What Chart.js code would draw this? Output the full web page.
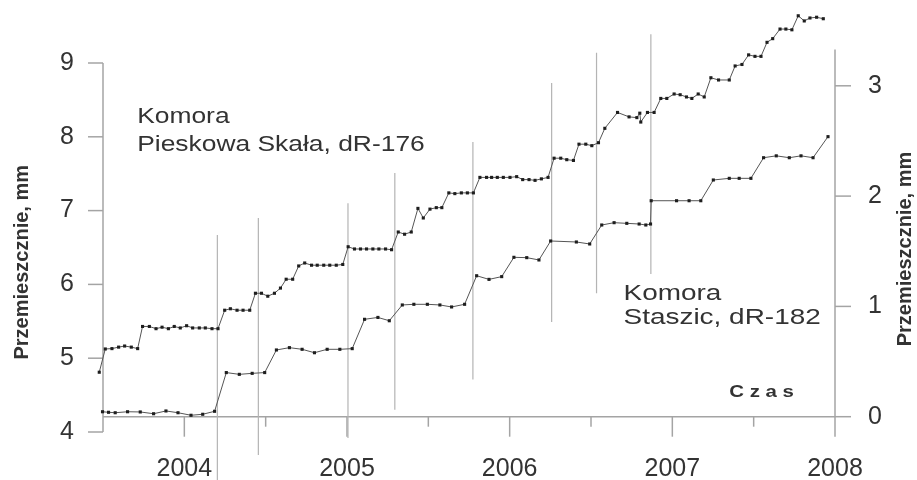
<!DOCTYPE html>
<html><head><meta charset="utf-8">
<script src="https://cdn.jsdelivr.net/npm/chart.js@4/dist/chart.umd.min.js"></script>
<style>html,body{margin:0;padding:0;background:#fff;}#wrap{width:917px;height:480px;}</style>
</head><body><div id="wrap"><canvas id="c" width="917" height="480"></canvas></div>
<script>
// ---- data (decimal years, millimetres) ----
const pieskowaYears = [2003.477,2003.514,2003.555,2003.596,2003.633,2003.674,2003.713,2003.743,2003.785,2003.826,
 2003.863,2003.902,2003.938,2003.975,2004.014,2004.051,2004.092,2004.129,2004.170,2004.207,
 2004.248,2004.283,2004.324,2004.361,2004.402,2004.437,2004.474,2004.513,2004.554,2004.591,
 2004.626,2004.666,2004.703,2004.740,2004.782,2004.817,2004.857,2004.894,2004.934,2004.974,
 2005.007,2005.046,2005.083,2005.120,2005.159,2005.196,2005.237,2005.274,2005.315,2005.354,
 2005.395,2005.436,2005.469,2005.510,2005.549,2005.583,2005.626,2005.663,2005.703,2005.740,
 2005.777,2005.817,2005.858,2005.889,2005.924,2005.961,2006.002,2006.043,2006.080,2006.119,
 2006.156,2006.195,2006.236,2006.273,2006.314,2006.351,2006.392,2006.426,2006.468,2006.505,
 2006.546,2006.585,2006.663,2006.734,2006.782,2006.800,2006.806,2006.847,2006.888,2006.929,
 2006.966,2007.011,2007.048,2007.087,2007.120,2007.159,2007.196,2007.237,2007.284,2007.350,
 2007.386,2007.428,2007.469,2007.508,2007.545,2007.582,2007.617,2007.662,2007.698,2007.735,
 2007.774,2007.811,2007.846,2007.887,2007.928];
const pieskowaValues = [4.81,5.125,5.13,5.15,5.165,5.15,5.13,5.43,5.43,5.40,
 5.42,5.40,5.43,5.41,5.44,5.41,5.41,5.41,5.40,5.40,
 5.65,5.67,5.65,5.65,5.65,5.88,5.88,5.84,5.88,5.95,
 6.07,6.07,6.25,6.29,6.26,6.26,6.26,6.26,6.26,6.27,
 6.51,6.48,6.48,6.48,6.48,6.48,6.48,6.47,6.71,6.68,
 6.71,7.03,6.90,7.02,7.04,7.04,7.24,7.23,7.24,7.24,
 7.24,7.45,7.45,7.45,7.45,7.45,7.45,7.46,7.42,7.42,
 7.41,7.43,7.45,7.71,7.71,7.69,7.68,7.90,7.90,7.88,
 7.92,8.115,8.33,8.27,8.26,8.32,8.20,8.33,8.33,8.52,
 8.52,8.58,8.57,8.54,8.52,8.58,8.54,8.80,8.77,8.77,
 8.96,8.98,9.11,9.09,9.09,9.28,9.33,9.46,9.46,9.45,
 9.64,9.57,9.61,9.62,9.60];
const staszicYears = [2003.497,2003.534,2003.575,2003.651,2003.729,2003.811,2003.887,2003.961,2004.041,2004.113,
 2004.186,2004.258,2004.338,2004.417,2004.494,2004.566,2004.646,2004.724,2004.800,2004.878,
 2004.956,2005.032,2005.108,2005.190,2005.260,2005.340,2005.411,2005.494,2005.571,2005.643,
 2005.723,2005.797,2005.873,2005.951,2006.026,2006.105,2006.180,2006.252,2006.410,2006.492,
 2006.566,2006.642,2006.720,2006.796,2006.837,2006.866,2006.870,2007.026,2007.103,2007.175,
 2007.252,2007.350,2007.411,2007.483,2007.561,2007.639,2007.719,2007.791,2007.865,2007.957];
const staszicValues = [0.045,0.040,0.036,0.045,0.043,0.027,0.052,0.036,0.013,0.022,
 0.049,0.400,0.384,0.393,0.400,0.605,0.626,0.611,0.580,0.611,
 0.611,0.617,0.883,0.900,0.870,1.013,1.019,1.019,1.013,0.995,
 1.019,1.278,1.245,1.270,1.445,1.442,1.421,1.593,1.584,1.566,
 1.738,1.759,1.753,1.747,1.738,1.747,1.958,1.958,1.958,1.958,
 2.146,2.161,2.161,2.161,2.348,2.365,2.348,2.365,2.348,2.539];
// vertical event markers (year, top / bottom on left axis)
const eventYears  = [2004.203,2004.455,2005.006,2005.294,2005.774,2006.258,2006.534,2006.868];
const eventTop    = [6.67,6.90,7.10,7.51,7.93,8.73,9.14,9.39];
const eventBottom = [3.35,3.69,3.92,4.30,4.71,5.49,5.88,6.14];
// ticks
const leftTicks = [4,5,6,7,8,9];
const rightTicks = [0,1,2,3];
const yearTicks = [2004,2005,2006,2007,2008];
const halfYearTicks = [2004.5,2005.5,2006.5,2007.5];
// texts
const axisTitle = 'Przemieszcznie, mm';
const timeLabel = 'C z a s';
const pieskowaLabel = ['Komora','Pieskowa Skała, dR-176'];
const staszicLabel = ['Komora','Staszic, dR-182'];

const FONT = "'Liberation Sans', Arial, sans-serif";
const TEXT = '#333333';
const AXIS = '#a4a4a4';

const toPts = (xs, ys) => xs.map((x,i)=>({x, y: ys[i]}));
const eventPts = [];
eventYears.forEach((x,i)=>{ eventPts.push({x, y:eventTop[i]},{x, y:eventBottom[i]},{x, y:null}); });

const axesPlugin = {
  id: 'axesPlugin',
  beforeDatasetsDraw(chart) {
    const {ctx, chartArea, scales:{x, yL, yR}} = chart;
    const L = chartArea.left, R = chartArea.right;
    const ln = (a,b,c,d)=>{ctx.beginPath();ctx.moveTo(a,b);ctx.lineTo(c,d);ctx.stroke();};
    ctx.save();
    ctx.strokeStyle = AXIS; ctx.lineWidth = 1.5;
    ln(L, yL.getPixelForValue(4), L, yL.getPixelForValue(9));
    leftTicks.forEach(v=>{const p=yL.getPixelForValue(v); ln(L-15,p,L,p);});
    ln(R, yR.getPixelForValue(0), R, yR.getPixelForValue(3.33));
    rightTicks.forEach(v=>{const p=yR.getPixelForValue(v); ln(R,p,R+16,p);});
    const y0 = yR.getPixelForValue(0);
    ln(L, y0, R, y0);
    yearTicks.forEach(v=>{const p=x.getPixelForValue(v); ln(p,y0,p,y0+20);});
    halfYearTicks.forEach(v=>{const p=x.getPixelForValue(v); ln(p,y0,p,y0+10);});
    ctx.restore();
  },
  afterDraw(chart) {
    const {ctx, scales:{x, yL, yR}} = chart;
    const stretched = (txt, px, py, size, bold, sx) => {
      ctx.save(); ctx.translate(px, py); ctx.scale(sx, 1);
      ctx.font = (bold?'bold ':'') + size + 'px ' + FONT;
      ctx.fillStyle = TEXT; ctx.textBaseline = 'alphabetic'; ctx.textAlign = 'left';
      ctx.fillText(txt, 0, 0); ctx.restore();
    };
    // annotations placed in data coordinates
    stretched(pieskowaLabel[0], x.getPixelForValue(2003.71), yL.getPixelForValue(8.19), 22, false, 1.2);
    stretched(pieskowaLabel[1], x.getPixelForValue(2003.71), yL.getPixelForValue(7.81), 22, false, 1.2);
    stretched(staszicLabel[0], x.getPixelForValue(2006.70), yR.getPixelForValue(1.06), 22, false, 1.27);
    stretched(staszicLabel[1], x.getPixelForValue(2006.70), yR.getPixelForValue(0.84), 22, false, 1.27);
    stretched(timeLabel, x.getPixelForValue(2007.35), yR.getPixelForValue(0.175), 17, true, 1.2);
    // axis titles (both read bottom-to-top)
    const vtitle = (cx, cy) => {
      ctx.save(); ctx.translate(cx, cy); ctx.rotate(-Math.PI/2);
      ctx.font = 'bold 20px ' + FONT; ctx.fillStyle = TEXT;
      ctx.textAlign = 'center'; ctx.textBaseline = 'middle';
      ctx.fillText(axisTitle, 0, 0); ctx.restore();
    };
    vtitle(22, yL.getPixelForValue(6.3));
    vtitle(905, yR.getPixelForValue(1.52));
  }
};

const noPad = s => { s.paddingTop = 0; s.paddingBottom = 0; s.paddingLeft = 0; s.paddingRight = 0; };
const tickFont = {family: FONT, size: 25};
new Chart(document.getElementById('c'), {
  type: 'line',
  data: { datasets: [
    { label: 'Pieskowa Skała', data: toPts(pieskowaYears, pieskowaValues), yAxisID: 'yL',
      borderColor: '#555', borderWidth: 1, pointStyle: 'rect', pointRadius: 2.2, pointBorderWidth: 0,
      pointBackgroundColor: '#1e1e1e', tension: 0, clip: false, order: 1 },
    { label: 'Staszic', data: toPts(staszicYears, staszicValues), yAxisID: 'yR',
      borderColor: '#555', borderWidth: 1, pointStyle: 'rect', pointRadius: 2.2, pointBorderWidth: 0,
      pointBackgroundColor: '#1e1e1e', tension: 0, clip: false, order: 2 },
    { label: 'events', data: eventPts, yAxisID: 'yL', borderColor: '#b4b4b4', borderWidth: 1.2,
      pointRadius: 0, spanGaps: false, clip: false, order: 5 }
  ]},
  options: {
    responsive: false, animation: false, devicePixelRatio: 1,
    layout: { padding: { top: 10, left: 0, right: 0, bottom: 0 } },
    plugins: { legend: { display: false }, tooltip: { enabled: false } },
    scales: {
      x: { type: 'linear', position: 'bottom', min: 2003.5, max: 2008,
        afterBuildTicks: s => { s.ticks = yearTicks.map(v=>({value:v})); },
        afterFit: s => { s.height = 40; noPad(s); },
        grid: { display: false, drawTicks: false }, border: { display: false },
        ticks: { padding: 14, font: tickFont, color: TEXT, maxRotation: 0, autoSkip: false, callback: v => String(v) } },
      yL: { type: 'linear', position: 'left', min: 3.8916, max: 9.7182,
        afterBuildTicks: s => { s.ticks = leftTicks.map(v=>({value:v})); },
        afterFit: s => { s.width = 103; noPad(s); },
        grid: { display: false, drawTicks: false }, border: { display: false },
        ticks: { padding: 29, font: tickFont, color: TEXT, callback: v => String(v) } },
      yR: { type: 'linear', position: 'right', min: -0.2112, max: 3.6872,
        afterBuildTicks: s => { s.ticks = rightTicks.map(v=>({value:v})); },
        afterFit: s => { s.width = 82; noPad(s); },
        grid: { display: false, drawTicks: false }, border: { display: false },
        ticks: { padding: 33, font: tickFont, color: TEXT, callback: v => String(v) } }
    }
  },
  plugins: [axesPlugin]
});
</script></body></html>
